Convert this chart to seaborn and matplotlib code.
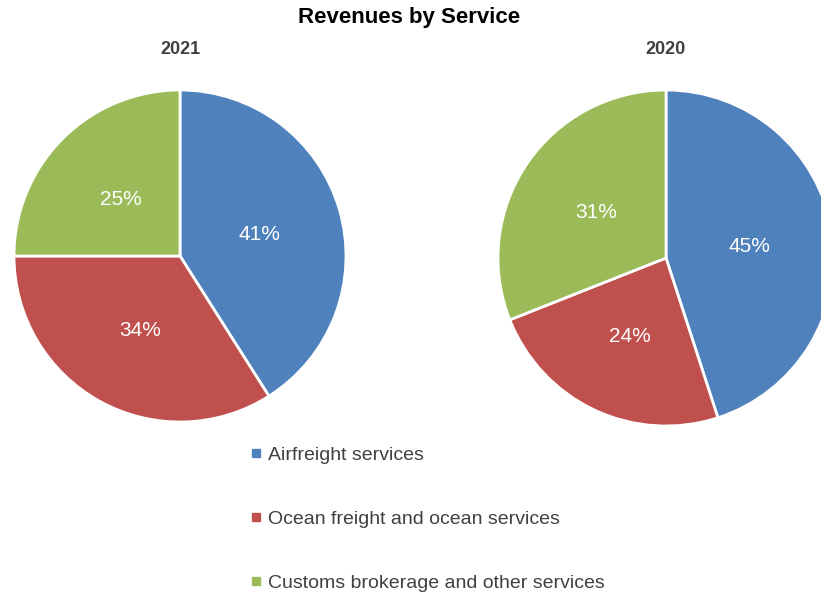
import matplotlib
matplotlib.use("Agg")
import matplotlib.pyplot as plt
from matplotlib.lines import Line2D
import seaborn as sns

sns.set_theme(style="white")
plt.rcParams['font.family'] = ['Liberation Sans', 'DejaVu Sans']

categories = ["Airfreight services", "Ocean freight and ocean services",
              "Customs brokerage and other services"]
years = ["2021", "2020"]
values_2021 = [41, 34, 25]
values_2020 = [45, 24, 31]
colors = ["#4F81BD", "#C0504D", "#9BBB59"]

W, H = 821, 594
fig = plt.figure(figsize=(W / 100, H / 100), dpi=100)
ax = fig.add_axes([0, 0, 1, 1])
ax.set_xlim(0, W)
ax.set_ylim(0, H)
ax.set_aspect('equal')
ax.axis('off')

pies = [(values_2021, (180, H - 256), 166), (values_2020, (666, H - 258), 168)]
for (vals, ctr, r), yr in zip(pies, years):
    wedges, texts, autotexts = ax.pie(
        vals, colors=colors, startangle=90, counterclock=False,
        center=ctr, radius=r, autopct='%d%%', pctdistance=0.5,
        wedgeprops=dict(edgecolor='white', linewidth=2),
        textprops=dict(color='white', fontsize=15))
    for t in autotexts:
        x, y = t.get_position()
        t.set_position((x, y - 2))
    ax.text(ctr[0], H - 49, yr, ha='center', va='center', fontsize=13,
            fontweight='bold', color='#404040')
ax.set_xlim(0, W)
ax.set_ylim(0, H)

fig.text(409 / W, 1 - 17 / H, "Revenues by Service", ha='center', va='center',
         fontsize=16, fontweight='bold', color='black')

handles = [Line2D([0], [0], marker='s', linestyle='none', markersize=5.5,
                  markerfacecolor=c, markeredgecolor=c) for c in colors]
leg = fig.legend(handles, categories, loc='upper left',
                 bbox_to_anchor=(250 / W, 1 - 446 / H), frameon=False,
                 fontsize=14, labelspacing=2.4, handlelength=0.6,
                 handletextpad=0.3, borderaxespad=0, borderpad=0)
for t in leg.get_texts():
    t.set_color('#404040')

fig.savefig("out.png", dpi=100)
